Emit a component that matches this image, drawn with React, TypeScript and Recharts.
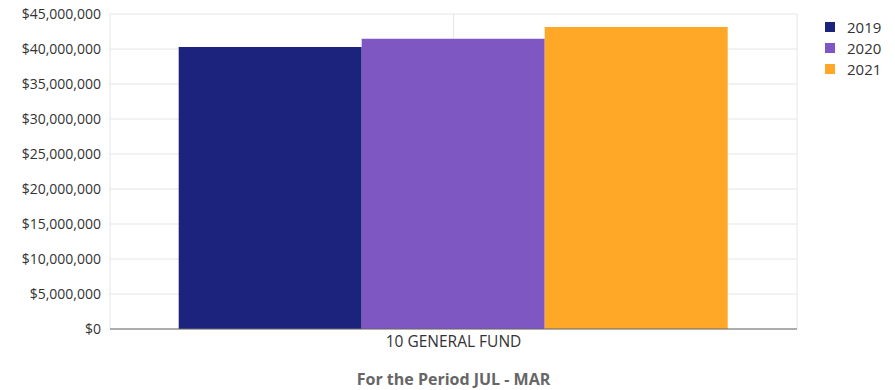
import React from 'react';
import { BarChart, Bar, XAxis, YAxis, CartesianGrid, Legend, Label } from 'recharts';

const categories = ['10 GENERAL FUND'];
const years = ['2019', '2020', '2021'];
const values2019 = [40290000];
const values2020 = [41470000];
const values2021 = [43150000];
const yTicks = [0, 5000000, 10000000, 15000000, 20000000, 25000000, 30000000, 35000000, 40000000, 45000000];

const colors: Record<string, string> = {
  '2019': '#1b237c',
  '2020': '#7e57c2',
  '2021': '#ffa726',
};

const data = categories.map((name, i) => ({
  name,
  '2019': values2019[i],
  '2020': values2020[i],
  '2021': values2021[i],
}));

const font = '"Open Sans", "Noto Sans", sans-serif';

const formatMoney = (v: number) => '$' + v.toLocaleString('en-US');

const LegendList = () => (
  <div style={{ fontFamily: font, fontSize: 15, color: '#333' }}>
    {years.map((y) => (
      <div key={y} style={{ display: 'flex', alignItems: 'center', height: 21 }}>
        <span style={{ width: 10, height: 10, background: colors[y], marginRight: 12 }} />
        <span>{y}</span>
      </div>
    ))}
  </div>
);

const App: React.FC = () => {
  return (
    <div style={{ position: 'absolute', left: 0, top: 0, width: 895, height: 390, background: '#fff' }}>
      <BarChart
        width={895}
        height={390}
        data={data}
        // the legend box (70px) is added to the right offset, so the plot ends near x=797
        margin={{ top: 14, right: 28, left: 0, bottom: 0 }}
        barCategoryGap="10%"
        barGap={0}
      >
        <CartesianGrid stroke="#e6e6e6" vertical={true} />
        <XAxis
          dataKey="name"
          height={61}
          axisLine={{ stroke: '#666' }}
          tickLine={false}
          tickMargin={1}
          tick={{ fill: '#333', fontSize: 15.5, fontFamily: font }}
        >
          <Label
            value="For the Period JUL - MAR"
            position="insideBottom"
            offset={5}
            style={{ fill: '#666', fontSize: 16, fontWeight: 700, fontFamily: font }}
          />
        </XAxis>
        <YAxis
          width={110}
          domain={[0, 45000000]}
          ticks={yTicks}
          interval={0}
          axisLine={false}
          tickLine={false}
          tickMargin={3}
          tickFormatter={formatMoney}
          tick={{ fill: '#333', fontSize: 14, fontFamily: font }}
        />
        <Legend
          layout="horizontal"
          align="right"
          verticalAlign="middle"
          content={<LegendList />}
          wrapperStyle={{ top: 16, left: 825, width: 70 }}
        />
        {years.map((y) => (
          <Bar key={y} dataKey={y} fill={colors[y]} isAnimationActive={false} />
        ))}
      </BarChart>
    </div>
  );
};

export default App;
